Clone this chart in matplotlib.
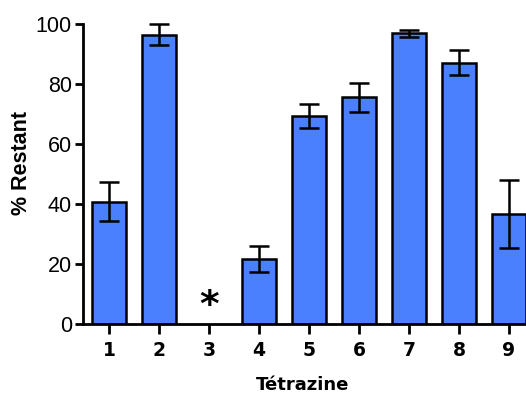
import matplotlib
matplotlib.use("Agg")
import matplotlib.pyplot as plt

categories = ["1", "2", "3", "4", "5", "6", "7", "8", "9"]
values = [40.7, 96.5, 0, 21.6, 69.4, 75.6, 96.9, 87.1, 36.8]
errors = [6.5, 3.6, 0, 4.3, 4.1, 4.8, 1.1, 4.2, 11.3]
yticks = [0, 20, 40, 60, 80, 100]
star_index = 2
star_y = 6

W, H = 526, 394
fig = plt.figure(figsize=(W / 100, H / 100), dpi=100)
ax = fig.add_axes([83 / W, 70 / H, (526 - 83) / W, 300 / H])

x = list(range(1, len(categories) + 1))
bx = [xi for xi, v in zip(x, values) if v > 0]
bv = [v for v in values if v > 0]
be = [e for v, e in zip(values, errors) if v > 0]
ax.bar(bx, bv, width=0.69, color="#4a80fe", edgecolor="black", linewidth=1.8, zorder=2)
ax.errorbar(bx, bv, yerr=be, fmt="none", ecolor="black", elinewidth=1.8,
            capsize=7, capthick=1.8, zorder=3, clip_on=False)

ax.text(x[star_index], star_y, "*", ha="center", va="center",
        fontsize=27, fontweight="bold", family="DejaVu Sans")

ax.set_xlim(0.48, 9.34)
ax.set_ylim(0, 100)
ax.set_yticks(yticks)
ax.set_yticklabels([str(t) for t in yticks], family="Liberation Sans", fontsize=15.5)
ax.set_xticks(x)
ax.set_xticklabels(categories, family="DejaVu Sans", fontweight="bold", fontsize=13.5)

for s in ["top", "right"]:
    ax.spines[s].set_visible(False)
for s in ["left", "bottom"]:
    ax.spines[s].set_linewidth(2)
ax.tick_params(axis="y", length=6, width=2, pad=2)
ax.tick_params(axis="x", length=7, width=2, pad=5)

fig.text(303 / W, (394 - 385) / H, "Tétrazine", ha="center", va="center",
         family="DejaVu Sans", fontweight="bold", fontsize=13)
fig.text(22 / W, (394 - 163) / H, "% Restant", ha="center", va="center",
         rotation=90, family="Liberation Sans", fontweight="bold", fontsize=15.5)

fig.savefig("out.png", dpi=100)
